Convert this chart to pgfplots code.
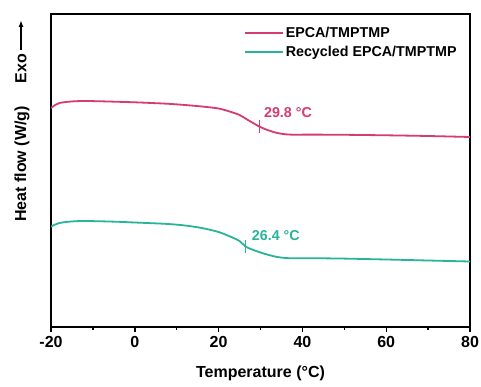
\documentclass[border=0pt]{standalone}
\usepackage{pgfplots}
\pgfplotsset{compat=1.18}
\usepackage{fontspec}
\setmainfont{Liberation Sans}
\usetikzlibrary{arrows.meta}
\definecolor{cpink}{RGB}{214,60,108}
\definecolor{cteal}{RGB}{40,180,152}
\begin{document}
\begin{tikzpicture}
\useasboundingbox (0,0) rectangle (481pt,386pt);
\begin{axis}[
  at={(51pt,59.3pt)}, anchor=south west,
  scale only axis, width=419pt, height=312.7pt,
  xmin=-20, xmax=80, ymin=59.3, ymax=372,
  xtick={-20,0,20,40,60,80},
  minor x tick num=1,
  ytick=\empty,
  xtick pos=bottom,
  tick align=outside,
  major tick length=5pt, minor tick length=3pt,
  every tick/.style={black, line width=1.4pt},
  axis line style={line width=1.8pt},
  /pgf/number format/assume math mode=true,
  xticklabel style={font=\fontsize{16}{19}\selectfont\bfseries, inner sep=0pt, yshift=-4pt},
  xlabel={Temperature (°C)},
  xlabel style={font=\fontsize{16}{19}\selectfont\bfseries, at={(axis description cs:0.5,0)}, anchor=center, yshift=-46.3pt},
  legend style={at={(axis description cs:0.46,0.966)}, anchor=north west, draw=none, fill=none, inner sep=0pt,
    font=\fontsize{14.3}{16}\selectfont\bfseries, row sep=3.5pt},
  legend cell align=left,
  legend image code/.code={\draw[#1] (0pt,0pt) -- (38pt,0pt);},
  legend image post style={line width=1.8pt, sharp plot},
]
\addplot[cpink, line width=1.8pt, smooth] coordinates {
(-20,278) (-19,281) (-18,283) (-16,284.2) (-14,284.8) (-12,285) (-8,284.7) (-4,284.2) (0,283.7) (4,283) (8,282.2) (12,281) (16,279.5) (20,277.5) (23,274) (25,271) (27,266) (29.8,259.3) (32,255.5) (34,253) (36,251.7) (38,251.3) (42,251.4) (50,251.2) (60,250.7) (70,250) (80,249)
};
\addlegendentry{EPCA/TMPTMP}
\addplot[cteal, line width=1.8pt, smooth] coordinates {
(-20,159.3) (-19,161.5) (-18,163) (-16,164.2) (-14,164.8) (-12,165) (-8,164.7) (-4,164.2) (0,163.5) (4,162.8) (8,162) (12,160.5) (16,158) (20,154) (23,149) (25,145) (26.4,139.5) (28,136.5) (30,133.5) (32,131) (34,129) (36,128) (38,127.7) (42,127.8) (50,127.4) (60,126.5) (70,125.5) (80,124.5)
};
\addlegendentry{Recycled EPCA/TMPTMP}
\addplot[cpink, only marks, mark=|, mark size=6.5pt, mark options={line width=1.4pt}, forget plot] coordinates {(29.8,259.3)};
\addplot[cteal, only marks, mark=|, mark size=6.5pt, mark options={line width=1.4pt}, forget plot] coordinates {(26.4,139.5)};
\node[cpink, anchor=west, inner sep=0pt, font=\fontsize{14.3}{16}\selectfont\bfseries] at (axis cs:30.8,273.3) {29.8 °C};
\node[cteal, anchor=west, inner sep=0pt, font=\fontsize{14.3}{16}\selectfont\bfseries] at (axis cs:27.9,150.3) {26.4 °C};
\end{axis}
\node[rotate=90, font=\fontsize{16}{19}\selectfont\bfseries, inner sep=0pt] at (22pt,222pt) {Heat flow (W/g)};
\node[rotate=90, font=\fontsize{16}{19}\selectfont\bfseries, inner sep=0pt] at (21pt,317.5pt) {Exo};
\draw[line width=1.4pt, -{Latex[length=7pt,width=5pt]}] (21pt,336pt) -- (21pt,366pt);
\end{tikzpicture}
\end{document}
